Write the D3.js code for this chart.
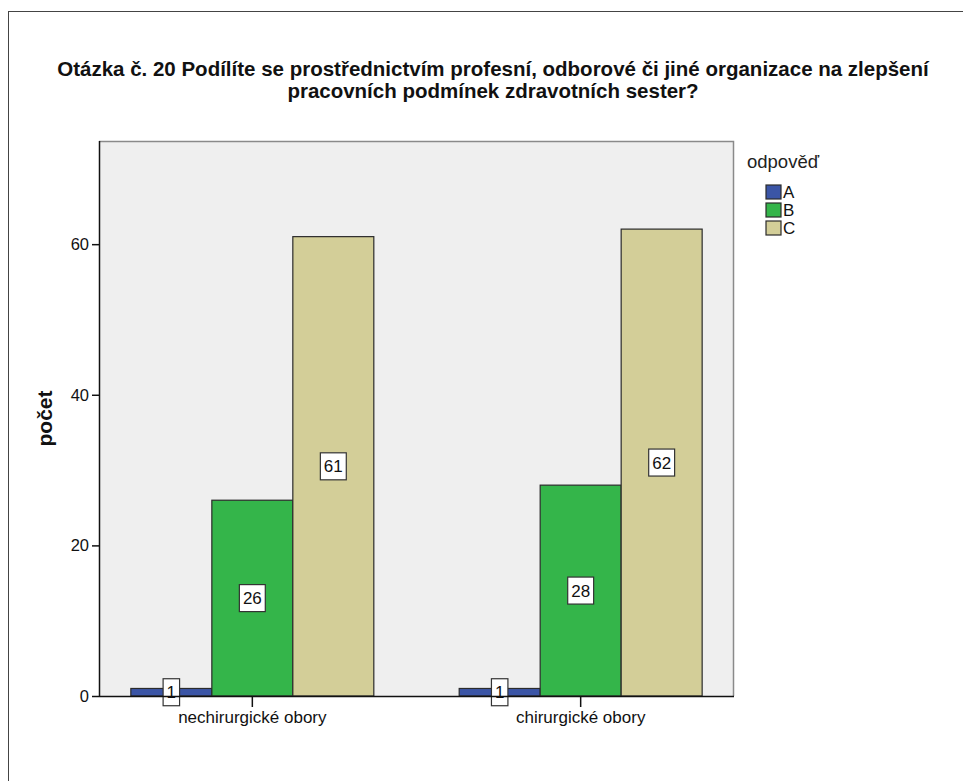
<!DOCTYPE html>
<html>
<head>
<meta charset="utf-8">
<script src="https://cdn.jsdelivr.net/npm/d3@7"></script>
<style>
  html, body { margin: 0; padding: 0; background: #ffffff; }
  svg { display: block; font-family: "Liberation Sans", Arial, sans-serif; }
</style>
</head>
<body>
<svg id="chart" width="963" height="781"></svg>
<script>
// Chart data
const categories = ["nechirurgické obory", "chirurgické obory"];
const seriesNames = ["A", "B", "C"];
const valuesA = [1, 1];
const valuesB = [26, 28];
const valuesC = [61, 62];
const yTicks = [0, 20, 40, 60];
const seriesColors = ["#3b55a6", "#34b54a", "#d3ce98"];
const titleLines = [
  "Otázka č. 20 Podílíte se prostřednictvím profesní, odborové či jiné organizace na zlepšení",
  "pracovních podmínek zdravotních sester?"
];
const yLabel = "počet";
const legendTitle = "odpověď";

const seriesValues = [valuesA, valuesB, valuesC];
const rows = categories.map((c, i) => ({
  category: c,
  items: seriesNames.map((s, j) => ({ series: s, value: seriesValues[j][i] }))
}));

const svg = d3.select("#chart");

// Outer frame
svg.append("rect")
  .attr("x", 8.5).attr("y", 11.5)
  .attr("width", 1000).attr("height", 1000)
  .attr("fill", "none").attr("stroke", "#444").attr("stroke-width", 1);

const plot = { left: 99, right: 734, top: 141, bottom: 696 };

const x0 = d3.scaleBand()
  .domain(categories)
  .range([plot.left, plot.right])
  .paddingInner(0.26)
  .paddingOuter(0.097);

const x1 = d3.scaleBand()
  .domain(seriesNames)
  .range([0, x0.bandwidth()])
  .padding(0);

const y = d3.scaleLinear()
  .domain([0, 73.7])
  .range([plot.bottom, plot.top]);

const color = d3.scaleOrdinal().domain(seriesNames).range(seriesColors);

// Plot background
svg.append("rect")
  .attr("x", plot.left).attr("y", plot.top)
  .attr("width", plot.right - plot.left).attr("height", plot.bottom - plot.top)
  .attr("fill", "#efefef");

// Top and right frame lines
svg.append("path")
  .attr("d", `M${plot.left},${plot.top + 0.5}H${plot.right - 0.5}V${plot.bottom}`)
  .attr("fill", "none").attr("stroke", "#8a8a8a").attr("stroke-width", 1.5);

// Bars
const groups = svg.append("g").selectAll("g")
  .data(rows).join("g")
  .attr("transform", d => `translate(${x0(d.category)},0)`);

groups.selectAll("rect")
  .data(d => d.items).join("rect")
  .attr("x", d => x1(d.series))
  .attr("y", d => y(d.value))
  .attr("width", x1.bandwidth())
  .attr("height", d => y(0) - y(d.value))
  .attr("fill", d => color(d.series))
  .attr("stroke", "#2b2b2b").attr("stroke-width", 1.2);

// Value labels in boxes
const labels = groups.selectAll("g.lbl")
  .data(d => d.items).join("g")
  .attr("class", "lbl")
  .attr("transform", d => `translate(${x1(d.series) + x1.bandwidth() / 2},${y(d.value / 2)})`);

labels.append("text")
  .attr("text-anchor", "middle")
  .attr("dy", "0.36em")
  .attr("font-size", 17)
  .attr("fill", "#111")
  .text(d => d.value);

labels.each(function () {
  const g = d3.select(this);
  const bb = g.select("text").node().getBBox();
  const w = bb.width + 7, h = 27;
  g.insert("rect", "text")
    .attr("x", -w / 2).attr("y", -h / 2)
    .attr("width", w).attr("height", h)
    .attr("fill", "#ffffff").attr("stroke", "#333").attr("stroke-width", 1.2);
});

// Y axis
const yAxis = svg.append("g")
  .attr("transform", `translate(${plot.left},0)`)
  .call(d3.axisLeft(y).tickValues(yTicks).tickSize(7).tickPadding(3));
yAxis.select(".domain").attr("stroke", "#111").attr("stroke-width", 1.5)
  .attr("d", `M0.5,${plot.top}V${plot.bottom}`);
yAxis.selectAll(".tick line").attr("stroke", "#111").attr("stroke-width", 1.5);
yAxis.selectAll(".tick text").attr("font-size", 16.5).attr("fill", "#111")
  .attr("font-family", "Liberation Sans, Arial, sans-serif");

// X axis
const xAxis = svg.append("g")
  .attr("transform", `translate(0,${plot.bottom})`)
  .call(d3.axisBottom(x0).tickSize(11).tickPadding(4));
xAxis.select(".domain").attr("stroke", "#111").attr("stroke-width", 1.5)
  .attr("d", `M${plot.left},0.5H${plot.right}`);
xAxis.selectAll(".tick line").attr("stroke", "#111").attr("stroke-width", 1.5);
xAxis.selectAll(".tick text").attr("font-size", 17).attr("fill", "#111")
  .attr("font-family", "Liberation Sans, Arial, sans-serif");

// Y axis title
svg.append("text")
  .attr("transform", `translate(52,${(plot.top + plot.bottom) / 2}) rotate(-90)`)
  .attr("text-anchor", "middle")
  .attr("font-size", 21).attr("font-weight", "bold").attr("fill", "#111")
  .text(yLabel);

// Chart title
svg.append("g").selectAll("text")
  .data(titleLines).join("text")
  .attr("x", 493)
  .attr("y", (d, i) => 76 + i * 22)
  .attr("text-anchor", "middle")
  .attr("font-size", 20.5).attr("font-weight", "bold").attr("fill", "#111")
  .text(d => d);

// Legend
const legend = svg.append("g").attr("transform", "translate(747,0)");
legend.append("text")
  .attr("x", 0).attr("y", 168)
  .attr("font-size", 18.5).attr("fill", "#222")
  .text(legendTitle);

const items = legend.selectAll("g.item")
  .data(seriesNames).join("g")
  .attr("class", "item")
  .attr("transform", (d, i) => `translate(19,${185 + i * 18})`);
items.append("rect")
  .attr("width", 15).attr("height", 14)
  .attr("fill", d => color(d))
  .attr("stroke", "#2b2b2b").attr("stroke-width", 1.2);
items.append("text")
  .attr("x", 17).attr("y", 7).attr("dy", "0.36em")
  .attr("font-size", 17).attr("fill", "#111")
  .text(d => d);
</script>
</body>
</html>
